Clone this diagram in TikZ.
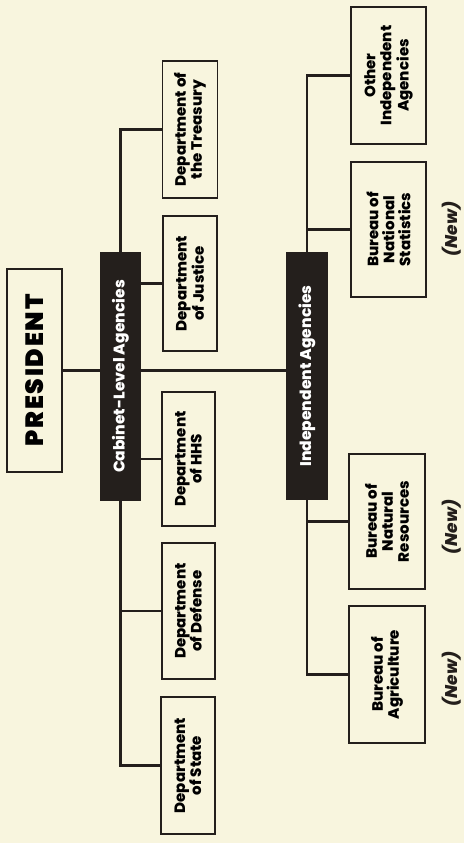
\documentclass[tikz,border=0pt]{standalone}
\usepackage{fontspec}
\setmainfont{Poppins}[BoldFont={Poppins ExtraBold}, BoldItalicFont={Poppins ExtraBold Italic}]
\newfontfamily\titlefont{Poppins Black}
\definecolor{PaperCream}{RGB}{248,245,222}
\definecolor{InkDark}{RGB}{36,31,28}
\usetikzlibrary{positioning}

\begin{document}
\begin{tikzpicture}[x=1pt, y=-1pt,
    unit/.style={draw=InkDark, line width=1.5pt, fill=PaperCream, rotate=90,
                 align=center, inner sep=0pt, font=\bfseries\fontsize{15}{16}\selectfont},
    hub/.style={fill=InkDark, text=white, rotate=90, inner sep=0pt,
                font=\bfseries\fontsize{15.5}{17}\selectfont},
    wire/.style={InkDark, line width=2.3pt},
    newtag/.style={rotate=90, text=InkDark, font=\bfseries\itshape\fontsize{17}{19}\selectfont}]
      \fill[PaperCream] (0,0) rectangle (464,843);
      \useasboundingbox (0,0) rectangle (464,843);
      % top of the chart
      \node[unit, minimum width=203pt, minimum height=55pt,
            font=\titlefont\fontsize{25}{27}\selectfont\addfontfeature{LetterSpace=7}] (pres) at (34.5,370.5) {PRESIDENT};
      \node[hub, minimum width=249pt, minimum height=41pt] (cab) at (120.5,376.5) {Cabinet-Level Agencies};
      \node[hub, minimum width=248pt, minimum height=42pt] (indep) at (307,376) {Independent Agencies};
      % cabinet departments
      \node[unit, minimum width=137pt, minimum height=55pt] (treas) at (190,129.5) {Department of\\the Treasury};
      \node[unit, minimum width=135pt, minimum height=54pt] (just) at (190,283.5) {Department\\of Justice};
      \node[unit, minimum width=134pt, minimum height=53pt] (hhs) at (188.5,459) {Department\\of HHS};
      \node[unit, minimum width=136pt, minimum height=53pt] (def) at (188.5,611) {Department\\of Defense};
      \node[unit, minimum width=137pt, minimum height=54pt] (state) at (188,765.5) {Department\\of State};
      % independent agencies
      \node[unit, minimum width=137pt, minimum height=75pt] (other) at (388.5,75.5) {Other\\Independent\\Agencies};
      \node[unit, minimum width=135pt, minimum height=75pt] (stat) at (388.5,229.5) {Bureau of\\National\\Statistics};
      \node[unit, minimum width=135pt, minimum height=76pt] (natres) at (387,521.5) {Bureau of\\Natural\\Resources};
      \node[unit, minimum width=137pt, minimum height=76pt] (agri) at (387,674.5) {Bureau of\\Agriculture};
      \node[newtag] (statnew) at (452,229) {(New)};
      \node[newtag] (natresnew) at (452,527) {(New)};
      \node[newtag] (agrinew) at (452,679) {(New)};
      % connectors
      \draw[wire] (pres.south) -- (pres.south -| cab.north);
      \draw[wire] (pres.south -| cab.south) -- (pres.south -| indep.north);
      \draw[wire] (cab.east) |- (treas.north);
      \draw[wire] (cab.south |- just.north) -- (just.north);
      \draw[wire] (cab.south |- hhs.north) -- (hhs.north);
      \draw[wire] (cab.west) |- (def.north);
      \draw[wire] (cab.west) |- (state.north);
      \draw[wire] (indep.east) |- (other.north);
      \draw[wire] (indep.east) |- (stat.north);
      \draw[wire] (indep.west) |- (natres.north);
      \draw[wire] (indep.west) |- (agri.north);
    \end{tikzpicture}
\end{document}
